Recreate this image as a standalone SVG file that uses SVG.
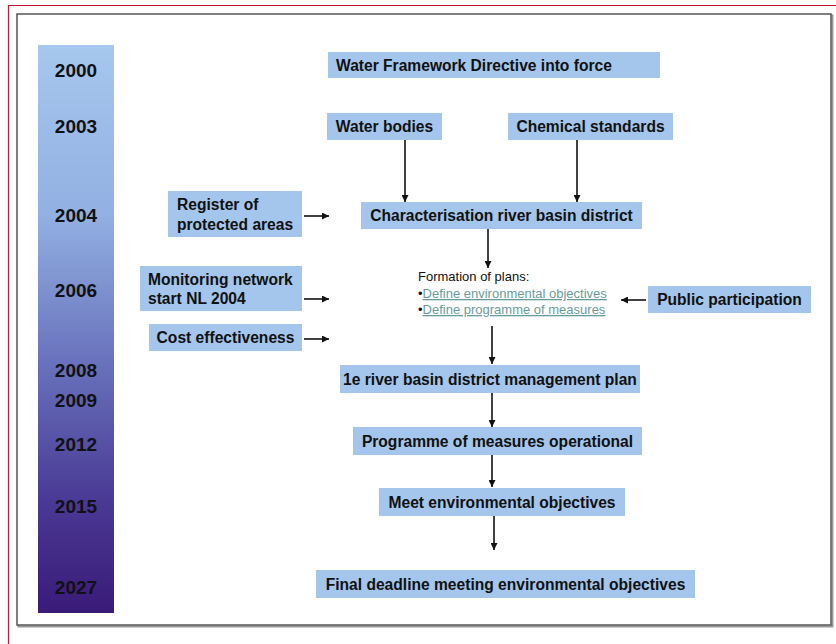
<svg xmlns="http://www.w3.org/2000/svg" width="836" height="644" viewBox="0 0 836 644">
<defs>
<linearGradient id="bar" x1="0" y1="0" x2="0" y2="1">
<stop offset="0" stop-color="#a6c7ee"/>
<stop offset="0.3" stop-color="#92b0e2"/>
<stop offset="0.55" stop-color="#6a74bd"/>
<stop offset="0.8" stop-color="#4a3a95"/>
<stop offset="1" stop-color="#3a1a78"/>
</linearGradient>
<marker id="ah" viewBox="0 0 10 10" refX="10" refY="5" markerWidth="7" markerHeight="7" markerUnits="userSpaceOnUse" orient="auto">
<path d="M0,0 L10,5 L0,10 z" fill="#111"/>
</marker>
<style>
.box{fill:#a4c6ec;}
.lbl{font-family:"Liberation Sans",Arial,sans-serif;font-weight:bold;font-size:15.6px;fill:#111;}
.yr{font-family:"Liberation Sans",Arial,sans-serif;font-weight:bold;font-size:19px;fill:#111;text-anchor:middle;}
.c{text-anchor:middle;}
.ln{stroke:#111;stroke-width:1.6;fill:none;marker-end:url(#ah);}
.plain{font-family:"Liberation Sans",Arial,sans-serif;font-size:13px;fill:#111;}
.link{font-family:"Liberation Sans",Arial,sans-serif;font-size:13px;fill:#6a9c9c;text-decoration:underline;}
</style>
</defs>
<rect x="0" y="0" width="836" height="644" fill="#ffffff"/>
<path d="M8.5,644 V5.5 H836" fill="none" stroke="#c8142e" stroke-width="1.2"/>
<rect x="18.5" y="15.5" width="814" height="611" fill="none" stroke="#999" stroke-width="2"/>
<rect x="17" y="14" width="814" height="611" fill="#fff" stroke="#555" stroke-width="1.5"/>

<g id="timeline">
<rect x="38" y="45" width="76" height="568" fill="url(#bar)"/>
<text class="yr" x="76" y="77">2000</text>
<text class="yr" x="76" y="133">2003</text>
<text class="yr" x="76" y="222">2004</text>
<text class="yr" x="76" y="297">2006</text>
<text class="yr" x="76" y="377">2008</text>
<text class="yr" x="76" y="407">2009</text>
<text class="yr" x="76" y="451">2012</text>
<text class="yr" x="76" y="513">2015</text>
<text class="yr" x="76" y="594">2027</text>
</g>

<g id="wfd"><rect class="box" x="328" y="52" width="332" height="26"/><text class="lbl" x="336" y="71">Water Framework Directive into force</text></g>
<g id="waterbodies"><rect class="box" x="327" y="113" width="115" height="27"/><text class="lbl c" x="384.5" y="132">Water bodies</text></g>
<g id="chemical"><rect class="box" x="508" y="113" width="165" height="27"/><text class="lbl c" x="590.5" y="132">Chemical standards</text></g>
<g id="register"><rect class="box" x="168" y="191" width="134" height="46"/><text class="lbl" x="177" y="210">Register of</text><text class="lbl" x="177" y="230">protected areas</text></g>
<g id="characterisation"><rect class="box" x="361" y="202" width="281" height="27"/><text class="lbl c" x="501.5" y="221">Characterisation river basin district</text></g>
<g id="monitoring"><rect class="box" x="140" y="266" width="162" height="45"/><text class="lbl" x="148" y="285">Monitoring network</text><text class="lbl" x="148" y="304">start NL 2004</text></g>
<g id="cost"><rect class="box" x="149" y="324" width="153" height="27"/><text class="lbl c" x="225.5" y="343">Cost effectiveness</text></g>
<g id="formation">
<text class="plain" x="418" y="281">Formation of plans:</text>
<text class="plain" x="418" y="298">•<tspan class="link">Define environmental objectives</tspan></text>
<text class="plain" x="418" y="314">•<tspan class="link">Define programme of measures</tspan></text>
</g>
<g id="public"><rect class="box" x="648" y="286" width="163" height="27"/><text class="lbl c" x="729.5" y="305">Public participation</text></g>
<g id="plan1"><rect class="box" x="340" y="365" width="300" height="28"/><text class="lbl c" x="490" y="385">1e river basin district management plan</text></g>
<g id="programme"><rect class="box" x="353" y="427" width="289" height="28"/><text class="lbl c" x="497.5" y="447">Programme of measures operational</text></g>
<g id="meet"><rect class="box" x="379" y="488" width="246" height="28"/><text class="lbl c" x="502" y="508">Meet environmental objectives</text></g>
<g id="final"><rect class="box" x="316" y="570" width="379" height="28"/><text class="lbl c" x="505.5" y="590">Final deadline meeting environmental objectives</text></g>

<g id="connectors">
<line class="ln" x1="405" y1="140" x2="405" y2="202"/>
<line class="ln" x1="577" y1="140" x2="577" y2="202"/>
<line class="ln" x1="304" y1="216" x2="329" y2="216"/>
<line class="ln" x1="488" y1="229" x2="488" y2="268"/>
<line class="ln" x1="304" y1="299" x2="329" y2="299"/>
<line class="ln" x1="304" y1="339" x2="329" y2="339"/>
<line class="ln" x1="646" y1="300" x2="621" y2="300"/>
<line class="ln" x1="492" y1="326" x2="492" y2="364"/>
<line class="ln" x1="492" y1="393" x2="492" y2="427"/>
<line class="ln" x1="492" y1="455" x2="492" y2="487"/>
<line class="ln" x1="494" y1="516" x2="494" y2="550"/>
</g>
</svg>
